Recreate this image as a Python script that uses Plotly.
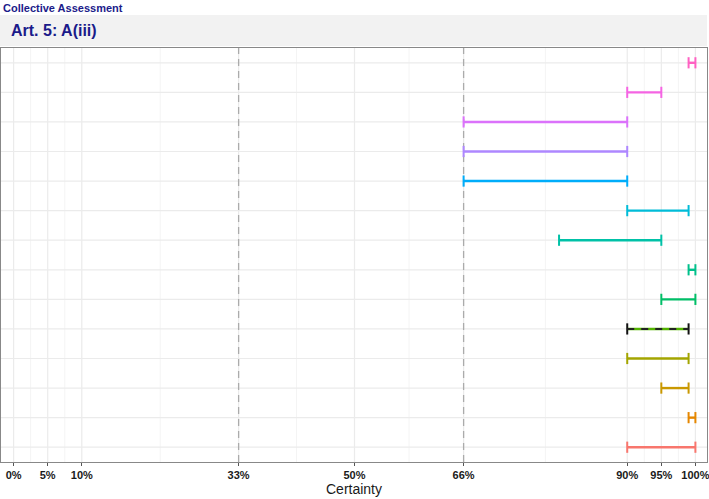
import plotly.graph_objects as go

# Data (top to bottom)
rows = list(range(14, 0, -1))
lower = [99, 90, 66, 66, 66, 90, 80, 99, 95, 90, 90, 95, 99, 90]
upper = [100, 95, 90, 90, 90, 99, 95, 100, 100, 99, 99, 99, 100, 100]
colors = ["#FF61C3", "#F564E3", "#DB72FB", "#AE87FF", "#00ADFA", "#00BCD8",
          "#00C1A7", "#00C08B", "#00BE67", "#53B400", "#A3A500", "#C99800",
          "#E58700", "#F8766D"]
collective = [False]*9 + [True] + [False]*4

tick_vals = [0, 5, 10, 33, 50, 66, 90, 95, 100]
tick_text = ["0%", "5%", "10%", "33%", "50%", "66%", "90%", "95%", "100%"]
minor_vals = [2.5, 7.5, 21.5, 41.5, 58, 78, 92.5, 97.5]
ref_lines = [33, 66]

fig = go.Figure()

for y, lo, hi, c, coll in zip(rows, lower, upper, colors, collective):
    fig.add_trace(go.Scatter(
        x=[lo, hi], y=[y, y], mode="lines+markers",
        line=dict(color=c, width=2.4),
        marker=dict(symbol="line-ns", size=8,
                    line=dict(color=("#111111" if coll else c), width=2)),
        showlegend=False, hoverinfo="skip", cliponaxis=False))
    if coll:
        fig.add_trace(go.Scatter(
            x=[lo, hi], y=[y, y], mode="lines",
            line=dict(color="#222222", width=2, dash="7px,7px"),
            showlegend=False, hoverinfo="skip"))

shapes = []
for v in minor_vals:
    shapes.append(dict(type="line", xref="x", yref="paper", x0=v, x1=v, y0=0, y1=1,
                       line=dict(color="#F4F4F4", width=1), layer="below"))
for v in tick_vals:
    shapes.append(dict(type="line", xref="x", yref="paper", x0=v, x1=v, y0=0, y1=1,
                       line=dict(color="#EBEBEB", width=1.2), layer="below"))
for v in rows:
    shapes.append(dict(type="line", xref="paper", yref="y", x0=0, x1=1, y0=v, y1=v,
                       line=dict(color="#EBEBEB", width=1.2), layer="below"))
for v in ref_lines:
    shapes.append(dict(type="line", xref="x", yref="paper", x0=v, x1=v, y0=0, y1=1,
                       line=dict(color="#ABABAB", width=1.3, dash="7px,5px"), layer="below"))
# strip header
shapes.append(dict(type="rect", xref="paper", yref="paper", x0=-0.002, x1=1.0, y0=1.005, y1=1.08,
                   fillcolor="#F2F2F2", line=dict(width=0), layer="below"))

tick_font = "Liberation Sans Narrow, Liberation Sans, Arial, sans-serif"

fig.update_layout(
    width=709, height=499,
    margin=dict(l=1, r=2, t=48, b=37, autoexpand=False),
    paper_bgcolor="white", plot_bgcolor="white",
    font=dict(family="Liberation Sans, Arial, sans-serif", color="#222222"),
    shapes=shapes,
    xaxis=dict(range=[-1.85, 101.7], tickvals=tick_vals,
               ticktext=["<b>%s</b>" % t for t in tick_text],
               tickfont=dict(size=11, color="#1a1a1a", family=tick_font),
               ticklabeloverflow="allow", automargin=False,
               ticks="outside", ticklen=3, tickcolor="#555555",
               showgrid=False, zeroline=False,
               showline=True, linecolor="#888888", linewidth=1, mirror=True,
               title=dict(text="Certainty", font=dict(size=14, color="#1a1a1a"), standoff=2)),
    yaxis=dict(range=[0.5, 14.5], showticklabels=False, ticks="", showgrid=False,
               zeroline=False, showline=True, linecolor="#888888", linewidth=1, mirror=True),
    annotations=[
        dict(text="<b>Collective Assessment</b>", xref="paper", yref="paper",
             x=0.0, y=1.0, yshift=48, xanchor="left", yanchor="top", showarrow=False,
             font=dict(size=11, color="#1B1B8A")),
        dict(text="<b>Art. 5: A(iii)</b>", xref="paper", yref="paper",
             x=0.012, y=1.0425, xanchor="left", yanchor="middle", showarrow=False,
             font=dict(size=16, color="#1B1B8A")),
    ],
)

fig.write_html("out.html", config={"displayModeBar": False},
               post_script="document.body.style.margin='0px';document.body.style.overflow='hidden';")
